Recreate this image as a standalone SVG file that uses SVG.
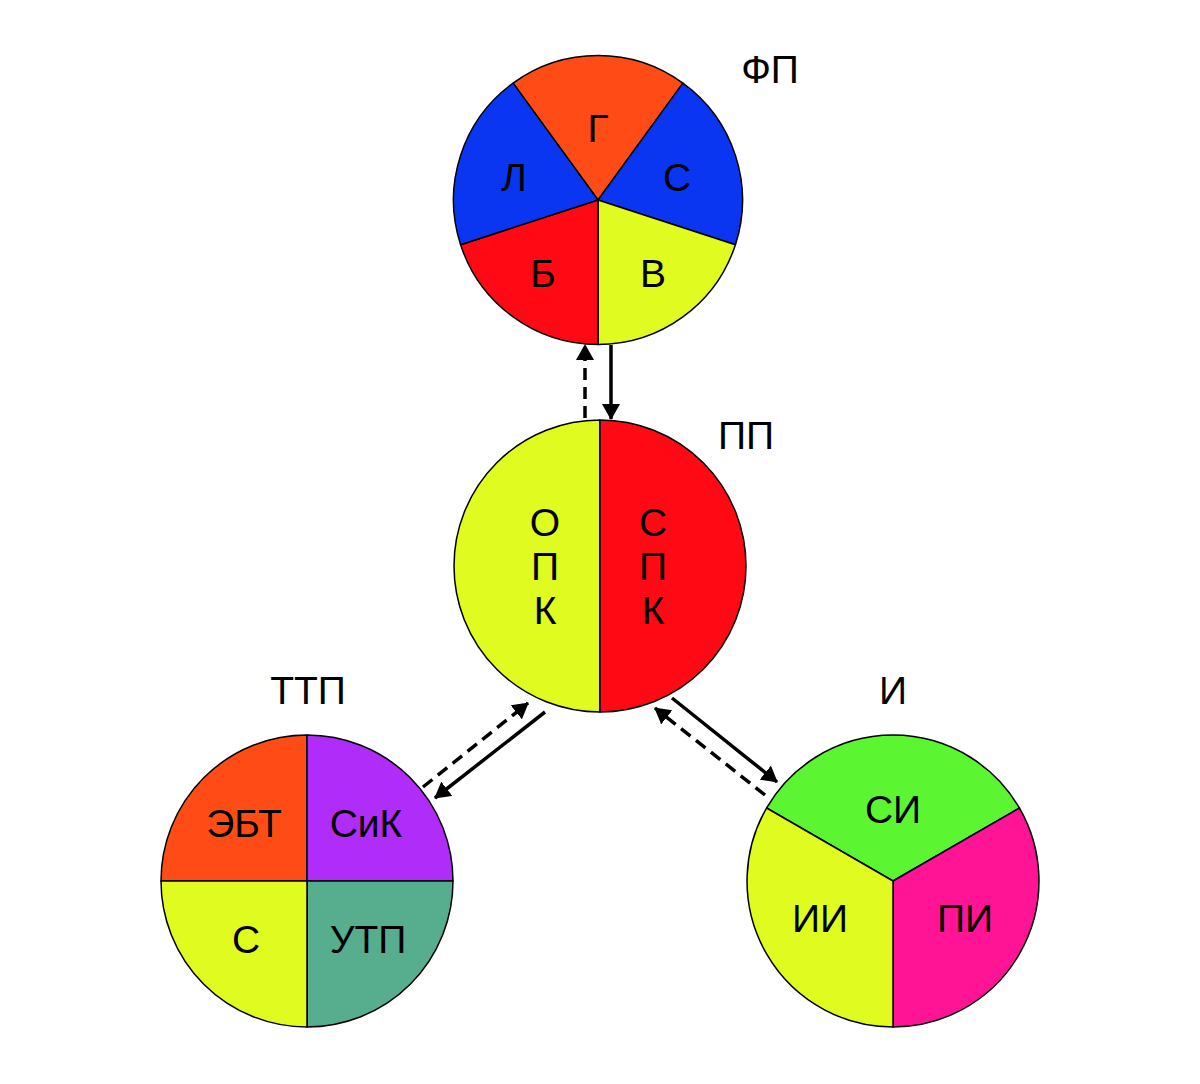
<svg xmlns="http://www.w3.org/2000/svg" width="1200" height="1084" viewBox="0 0 1200 1084">
<defs>
<style>
.t{font-family:"Liberation Sans",Arial,sans-serif;font-size:39px;fill:#000;text-anchor:middle}
.s{stroke:#000;stroke-width:1.5;stroke-linejoin:round}
.c{stroke:#000;stroke-width:3.5;fill:none}
.d{stroke-dasharray:12 7}
.or{fill:#FF4C16}.bl{fill:#0A36F2}.rd{fill:#FF0A14}.ye{fill:#DFFB1F}
.pu{fill:#B02CF8}.te{fill:#56AE8E}.gr{fill:#5CF532}.pk{fill:#FE1494}
</style>
<marker id="ah" viewBox="0 0 16 18" refX="15" refY="9" markerWidth="16" markerHeight="18" markerUnits="userSpaceOnUse" orient="auto">
<path d="M0,0 L16,9 L0,18 Z" fill="#000"/>
</marker>
</defs>
<rect width="1200" height="1084" fill="#fff"/>

<g id="FP">
<path class="s or" d="M598,200 L513.1,83.1 A144.5,144.5 0 0 1 682.9,83.1 Z"/>
<path class="s bl" d="M598,200 L682.9,83.1 A144.5,144.5 0 0 1 735.4,244.7 Z"/>
<path class="s ye" d="M598,200 L735.4,244.7 A144.5,144.5 0 0 1 598,344.5 Z"/>
<path class="s rd" d="M598,200 L598,344.5 A144.5,144.5 0 0 1 460.6,244.7 Z"/>
<path class="s bl" d="M598,200 L460.6,244.7 A144.5,144.5 0 0 1 513.1,83.1 Z"/>
<text class="t" x="598" y="142">Г</text>
<text class="t" x="514" y="191">Л</text>
<text class="t" x="677" y="191">С</text>
<text class="t" x="543" y="287">Б</text>
<text class="t" x="653" y="287">В</text>
<text class="t" x="770" y="83">ФП</text>
</g>

<g id="PP">
<path class="s ye" d="M600,420 A146,146 0 0 0 600,712 Z"/>
<path class="s rd" d="M600,420 A146,146 0 0 1 600,712 Z"/>
<text class="t" x="545" y="536">О</text>
<text class="t" x="545" y="580">П</text>
<text class="t" x="545" y="624">К</text>
<text class="t" x="653" y="536">С</text>
<text class="t" x="653" y="580">П</text>
<text class="t" x="653" y="624">К</text>
<text class="t" x="746" y="449">ПП</text>
</g>

<g id="TTP">
<path class="s or" d="M307,881 L161,881 A146,146 0 0 1 307,735 Z"/>
<path class="s pu" d="M307,881 L307,735 A146,146 0 0 1 453,881 Z"/>
<path class="s te" d="M307,881 L453,881 A146,146 0 0 1 307,1027 Z"/>
<path class="s ye" d="M307,881 L307,1027 A146,146 0 0 1 161,881 Z"/>
<text class="t" x="244" y="837">ЭБТ</text>
<text class="t" x="366" y="837">СиК</text>
<text class="t" x="246" y="953">С</text>
<text class="t" x="368" y="953">УТП</text>
<text class="t" x="308" y="704">ТТП</text>
</g>

<g id="I">
<path class="s gr" d="M893,881 L766.6,808 A146,146 0 0 1 1019.4,808 Z"/>
<path class="s pk" d="M893,881 L1019.4,808 A146,146 0 0 1 893,1027 Z"/>
<path class="s ye" d="M893,881 L893,1027 A146,146 0 0 1 766.6,808 Z"/>
<text class="t" x="893" y="823">СИ</text>
<text class="t" x="820" y="932">ИИ</text>
<text class="t" x="965" y="932">ПИ</text>
<text class="t" x="893" y="704">И</text>
</g>

<g id="connectors">
<line class="c d" x1="585" y1="418" x2="585" y2="345" marker-end="url(#ah)"/>
<line class="c" x1="611" y1="345" x2="611" y2="419" marker-end="url(#ah)"/>
<line class="c d" x1="423" y1="787" x2="528" y2="703" marker-end="url(#ah)"/>
<line class="c" x1="545" y1="712" x2="435" y2="798" marker-end="url(#ah)"/>
<line class="c" x1="672" y1="698" x2="777" y2="782" marker-end="url(#ah)"/>
<line class="c d" x1="765" y1="795" x2="655" y2="708" marker-end="url(#ah)"/>
</g>
</svg>
